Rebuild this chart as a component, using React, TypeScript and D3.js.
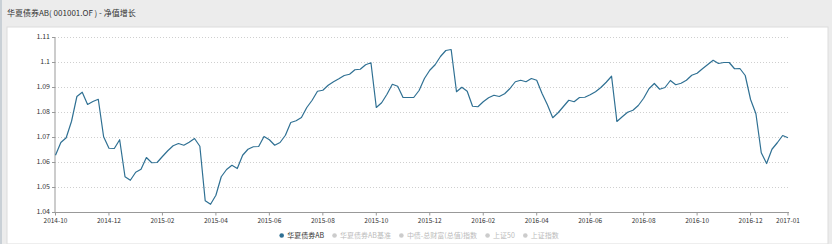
import React from 'react';
import * as d3 from 'd3';

const title = '华夏债券AB( 001001.OF ) - 净值增长';
const legendNames = ['华夏债券AB', '华夏债券AB基准', '中债-总财富(总值)指数', '上证50', '上证指数'];
const xLabels = ['2014-10', '2014-12', '2015-02', '2015-04', '2015-06', '2015-08', '2015-10', '2015-12', '2016-02', '2016-04', '2016-06', '2016-08', '2016-10', '2016-12', '2017-01'];
const yTicks = [1.04, 1.05, 1.06, 1.07, 1.08, 1.09, 1.1, 1.11];
const navValues = [
  1.0629, 1.0680, 1.0699, 1.0765, 1.0864, 1.0881, 1.0832, 1.0844, 1.0853, 1.0703,
  1.0657, 1.0656, 1.0691, 1.0543, 1.0529, 1.0561, 1.0573, 1.0620, 1.0599, 1.0600,
  1.0624, 1.0647, 1.0667, 1.0676, 1.0669, 1.0681, 1.0696, 1.0665, 1.0447, 1.0433,
  1.0469, 1.0543, 1.0572, 1.0589, 1.0576, 1.0629, 1.0653, 1.0663, 1.0664, 1.0704,
  1.0691, 1.0669, 1.0680, 1.0709, 1.0760, 1.0767, 1.0780, 1.0820, 1.0849, 1.0885,
  1.0889, 1.0909, 1.0923, 1.0935, 1.0948, 1.0953, 1.0971, 1.0973, 1.0991, 1.0999,
  1.0820, 1.0839, 1.0873, 1.0913, 1.0905, 1.0860, 1.0860, 1.0860, 1.0888, 1.0936,
  1.0969, 1.0991, 1.1024, 1.1048, 1.1052, 1.0883, 1.0901, 1.0885, 1.0825, 1.0823,
  1.0843, 1.0859, 1.0869, 1.0864, 1.0875, 1.0896, 1.0923, 1.0929, 1.0923, 1.0936,
  1.0929, 1.0876, 1.0831, 1.0779, 1.0799, 1.0824, 1.0849, 1.0843, 1.0860, 1.0861,
  1.0871, 1.0883, 1.0900, 1.0921, 1.0945, 1.0764, 1.0783, 1.0801, 1.0809, 1.0828,
  1.0857, 1.0895, 1.0916, 1.0893, 1.0900, 1.0928, 1.0911, 1.0917, 1.0929, 1.0949,
  1.0957, 1.0975, 1.0992, 1.1009, 1.0996, 1.1000, 1.1000, 1.0975, 1.0976, 1.0948,
  1.0852, 1.0795, 1.0639, 1.0596, 1.0653, 1.0679, 1.0708, 1.0699,
];

const W = 832;
const H = 244;
const FONT = "'Noto Sans CJK SC', 'Noto Sans', sans-serif";
const LINE_COLOR = '#2f7093';
const LABEL_INTERVAL = 10;

let ctx: CanvasRenderingContext2D | null = null;
function measure(text: string, size: number) {
  if (!ctx) ctx = document.createElement('canvas').getContext('2d');
  if (!ctx) return text.length * size * 0.7;
  ctx.font = `${size}px ${FONT}`;
  return ctx.measureText(text).width;
}

export default function App() {
  const n = navValues.length;
  const x = d3.scaleLinear().domain([0, n - 1]).range([55.5, 788]);
  const y = d3.scaleLinear().domain([1.04, 1.11]).range([212.5, 37.5]);
  const line = d3.line<number>().x((_, i) => x(i)).y((d) => y(d));
  const tickIdx = xLabels.map((_, k) => (k === xLabels.length - 1 ? n - 1 : k * LABEL_INTERVAL));
  const fmt = (v: number) => String(+v.toFixed(2));

  // legend layout
  const lfs = 7;
  const iconW = 5;
  const gapIT = 3;
  const gapItems = 8;
  const widths = legendNames.map((s) => measure(s, lfs));
  const total = widths.reduce((a, b) => a + b, 0) + legendNames.length * (iconW + gapIT) + (legendNames.length - 1) * gapItems;
  let cursor = 419 - total / 2;
  const legendItems = legendNames.map((name, i) => {
    const start = cursor;
    cursor += iconW + gapIT + widths[i] + gapItems;
    return { name, start, active: i === 0 };
  });

  return (
    <svg width={W} height={H} style={{ position: 'absolute', left: 0, top: 0 }} fontFamily={FONT}>
      <rect x={0} y={0} width={W} height={H} fill="#ececec" />
      <rect x={0} y={0} width={2} height={H} fill="#c9d0d6" />
      <rect x={7} y={27} width={821} height={H - 27} fill="#ffffff" stroke="#dcdcdc" strokeWidth={1} />
      <text x={7} y={16} fontSize={8} fill="#333">{title}</text>

      {yTicks.map((t) => (
        <g key={t}>
          <line x1={55} x2={789} y1={y(t)} y2={y(t)} stroke="#cfcfcf" strokeWidth={1} strokeDasharray="1,2" />
          <line x1={52} x2={55} y1={y(t)} y2={y(t)} stroke="#999" strokeWidth={1} />
          <text x={50} y={y(t)} dy="0.22em" textAnchor="end" fontSize={7} fill="#333">{fmt(t)}</text>
        </g>
      ))}
      <line x1={55} x2={55} y1={37.5} y2={212.5} stroke="#999" strokeWidth={1} />
      <line x1={55} x2={789} y1={212.5} y2={212.5} stroke="#999" strokeWidth={1} />
      {xLabels.map((lab, k) => (
        <g key={lab}>
          <line x1={x(tickIdx[k])} x2={x(tickIdx[k])} y1={212.5} y2={215.5} stroke="#999" strokeWidth={1} />
          <text x={x(tickIdx[k])} y={223} textAnchor="middle" fontSize={6.5} fill="#333">{lab}</text>
        </g>
      ))}

      <path d={line(navValues) || ''} fill="none" stroke={LINE_COLOR} strokeWidth={1.2} strokeLinejoin="round" />

      {legendItems.map((it) => (
        <g key={it.name}>
          <circle cx={it.start + iconW / 2} cy={235.5} r={2.3} fill={it.active ? LINE_COLOR : '#cccccc'} />
          <text x={it.start + iconW + gapIT} y={235.5} dy="0.35em" fontSize={lfs} fill={it.active ? '#333' : '#bbbbbb'}>{it.name}</text>
        </g>
      ))}
    </svg>
  );
}
